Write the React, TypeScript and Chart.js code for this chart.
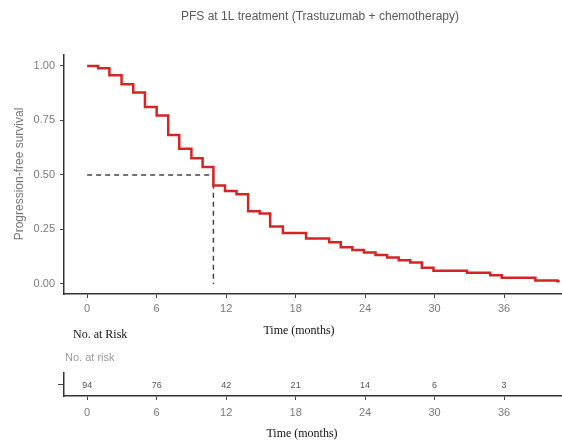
import React, { useEffect, useRef } from 'react';
import { Chart, registerables } from 'chart.js';

Chart.register(...registerables);

const titleText = 'PFS at 1L treatment (Trastuzumab + chemotherapy)';
const yAxisTitle = 'Progression-free survival';
const xAxisTitle = 'Time (months)';
const riskHeaderTop = 'No. at Risk';
const riskHeaderBottom = 'No. at risk';

// Kaplan-Meier step points (time in months, survival probability after the drop)
const kmTimes = [0, 0.95, 1.92, 2.97, 3.98, 4.99, 6.0, 7.0, 7.95, 9.0, 9.97, 10.9, 11.9, 12.9, 13.9, 14.9, 15.8, 16.9, 18.9, 20.9, 21.9, 22.9, 23.9, 24.9, 25.9, 26.9, 27.9, 28.9, 29.9, 32.8, 34.8, 35.8, 38.7, 40.6, 40.8];
const kmSurvival = [1, 0.989, 0.957, 0.916, 0.878, 0.811, 0.772, 0.683, 0.62, 0.577, 0.536, 0.452, 0.426, 0.411, 0.334, 0.323, 0.263, 0.234, 0.208, 0.191, 0.168, 0.156, 0.144, 0.133, 0.121, 0.109, 0.099, 0.074, 0.061, 0.051, 0.04, 0.029, 0.016, 0.012, 0.012];

const medianTime = 10.9;
const medianSurvival = 0.5;

const xTickValues = [0, 6, 12, 18, 24, 30, 36];
const yTickValues = [0, 0.25, 0.5, 0.75, 1];

const riskTimes = [0, 6, 12, 18, 24, 30, 36];
const riskCounts = [94, 76, 42, 21, 14, 6, 3];

const X_MIN = -2;
const X_MAX = 41;
const Y_MIN = -0.046;
const Y_MAX = 1.05;

const SANS = '"Liberation Sans", Arial, sans-serif';
const SERIF = '"Liberation Serif", "Times New Roman", serif';

const MAIN_H = 345;
const RISK_H = 96;

export default function App() {
  const mainRef = useRef<HTMLCanvasElement>(null);
  const riskRef = useRef<HTMLCanvasElement>(null);

  useEffect(() => {
    const mainCanvas = mainRef.current!;
    const riskCanvas = riskRef.current!;

    const mainText = {
      id: 'mainText',
      afterDraw(chart: any) {
        const ctx = chart.ctx;
        ctx.save();
        ctx.fillStyle = '#595959';
        ctx.font = `12px ${SANS}`;
        ctx.textAlign = 'center';
        ctx.textBaseline = 'middle';
        ctx.fillText(titleText, 320, 17);

        ctx.fillStyle = '#777';
        ctx.font = `12px ${SANS}`;
        ctx.translate(20, 174);
        ctx.rotate(-Math.PI / 2);
        ctx.fillText(yAxisTitle, 0, 0);
        ctx.restore();

        ctx.save();
        ctx.fillStyle = '#111';
        ctx.font = `12px ${SERIF}`;
        ctx.textBaseline = 'middle';
        ctx.textAlign = 'center';
        ctx.fillText(xAxisTitle, 299, 331);
        ctx.textAlign = 'left';
        ctx.fillText(riskHeaderTop, 73, 335);
        ctx.restore();
      },
    };

    const main = new Chart(mainCanvas, {
      type: 'line',
      data: {
        datasets: [
          {
            data: kmTimes.map((t, i) => ({ x: t, y: kmSurvival[i] })),
            borderColor: '#d42424',
            borderWidth: 2.5,
            stepped: 'before',
            pointRadius: 0,
            fill: false,
          },
          {
            data: [
              { x: 0, y: medianSurvival },
              { x: medianTime, y: medianSurvival },
              { x: medianTime, y: 0 },
            ],
            borderColor: '#444',
            borderWidth: 1.5,
            borderDash: [5, 4],
            pointRadius: 0,
            fill: false,
            tension: 0,
          },
        ],
      },
      options: {
        animation: false,
        responsive: false,
        layout: { padding: { top: 55, left: 0, right: 0, bottom: 0 } },
        plugins: { legend: { display: false }, tooltip: { enabled: false }, title: { display: false } },
        scales: {
          x: {
            type: 'linear',
            min: X_MIN,
            max: X_MAX,
            afterBuildTicks: (s: any) => {
              s.ticks = xTickValues.map((v) => ({ value: v }));
            },
            afterFit: (s: any) => {
              s.height = MAIN_H - 294;
            },
            ticks: {
              color: '#7a7a7a',
              font: { size: 11, family: SANS },
              padding: 4,
              autoSkip: false,
              maxRotation: 0,
              callback: (v: any) => String(v),
            },
            grid: { drawOnChartArea: false, tickLength: 4, color: '#444', lineWidth: 1 },
            border: { color: '#333', width: 1.5 },
          },
          y: {
            type: 'linear',
            min: Y_MIN,
            max: Y_MAX,
            afterBuildTicks: (s: any) => {
              s.ticks = yTickValues.map((v) => ({ value: v }));
            },
            afterFit: (s: any) => {
              s.width = 64;
            },
            ticks: {
              color: '#7a7a7a',
              font: { size: 11, family: SANS },
              padding: 5,
              callback: (v: any) => Number(v).toFixed(2),
            },
            grid: { drawOnChartArea: false, tickLength: 4, color: '#444', lineWidth: 1 },
            border: { color: '#333', width: 1.5 },
          },
        },
      },
      plugins: [mainText],
    } as any);

    const riskText = {
      id: 'riskText',
      afterDraw(chart: any) {
        const ctx = chart.ctx;
        const meta = chart.getDatasetMeta(0);
        ctx.save();
        ctx.fillStyle = '#555';
        ctx.font = `9px ${SANS}`;
        ctx.textAlign = 'center';
        ctx.textBaseline = 'middle';
        meta.data.forEach((el: any, i: number) => {
          ctx.fillText(String(riskCounts[i]), el.x, el.y + 1.5);
        });
        ctx.fillStyle = '#9a9a9a';
        ctx.font = `11px ${SANS}`;
        ctx.textAlign = 'left';
        ctx.fillText(riskHeaderBottom, 65, 13);
        ctx.fillStyle = '#111';
        ctx.font = `12px ${SERIF}`;
        ctx.textAlign = 'center';
        ctx.fillText(xAxisTitle, 302, 89);
        ctx.restore();
      },
    };

    const risk = new Chart(riskCanvas, {
      type: 'scatter',
      data: {
        datasets: [
          {
            data: riskTimes.map((t) => ({ x: t, y: 0.5 })),
            pointRadius: 0,
            showLine: false,
          },
        ],
      },
      options: {
        animation: false,
        responsive: false,
        layout: { padding: { top: 28, left: 0, right: 0, bottom: 0 } },
        plugins: { legend: { display: false }, tooltip: { enabled: false } },
        scales: {
          x: {
            type: 'linear',
            min: X_MIN,
            max: X_MAX,
            afterBuildTicks: (s: any) => {
              s.ticks = xTickValues.map((v) => ({ value: v }));
            },
            afterFit: (s: any) => {
              s.height = RISK_H - 51;
            },
            ticks: {
              color: '#7a7a7a',
              font: { size: 11, family: SANS },
              padding: 6,
              autoSkip: false,
              maxRotation: 0,
              callback: (v: any) => String(v),
            },
            grid: { drawOnChartArea: false, tickLength: 4, color: '#444', lineWidth: 1 },
            border: { color: '#333', width: 1.5 },
          },
          y: {
            type: 'linear',
            min: 0,
            max: 1,
            afterBuildTicks: (s: any) => {
              s.ticks = [{ value: 0.5 }];
            },
            afterFit: (s: any) => {
              s.width = 64;
            },
            ticks: { callback: () => '', padding: 0 },
            grid: { drawOnChartArea: false, tickLength: 6, color: '#444', lineWidth: 1 },
            border: { color: '#333', width: 1.5 },
          },
        },
      },
      plugins: [riskText],
    } as any);

    return () => {
      main.destroy();
      risk.destroy();
    };
  }, []);

  return (
    <div style={{ position: 'fixed', left: 0, top: 0, width: 562, height: 441, background: '#fff' }}>
      <canvas ref={mainRef} width={562} height={MAIN_H} style={{ position: 'absolute', left: 0, top: 0 }} />
      <canvas ref={riskRef} width={562} height={RISK_H} style={{ position: 'absolute', left: 0, top: MAIN_H }} />
    </div>
  );
}
